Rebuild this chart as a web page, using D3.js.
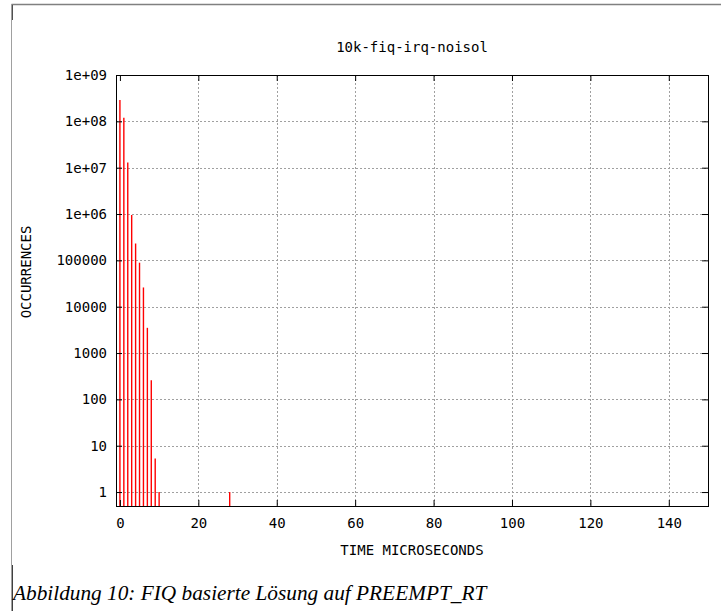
<!DOCTYPE html>
<html>
<head>
<meta charset="utf-8">
<script src="https://cdn.jsdelivr.net/npm/d3@7"></script>
<style>
    body { margin: 0; background: #fff; }
    svg { display: block; }
    .mono { font-family: "DejaVu Sans Mono", "Liberation Mono", monospace; font-size: 14px; fill: #000; }
    .caption { font-family: "Liberation Serif", "Times New Roman", "DejaVu Serif", serif; font-style: italic; font-size: 21.3px; fill: #000; }
</style>
</head>
<body>
<svg width="721" height="611"></svg>
<script>
// histogram data: latency in microseconds and count
const times = [0, 1, 2, 3, 4, 5, 6, 7, 8, 9, 10, 28];
const counts = [290000000, 120000000, 13000000, 950000, 230000, 89000, 26000, 3500, 260, 5.3, 1, 1];
const yTicks = [1, 10, 100, 1000, 10000, 100000, 1e6, 1e7, 1e8, 1e9];
const yTickLabels = ["1", "10", "100", "1000", "10000", "100000", "1e+06", "1e+07", "1e+08", "1e+09"];
const xTicks = [0, 20, 40, 60, 80, 100, 120, 140];

const svg = d3.select("svg");

// page frame lines
svg.append("line").attr("x1", 11.5).attr("x2", 721).attr("y1", 4.5).attr("y2", 4.5)
    .attr("stroke", "#808080").attr("stroke-width", 1.5);
svg.append("line").attr("x1", 11.5).attr("x2", 11.5).attr("y1", 4).attr("y2", 611)
    .attr("stroke", "#a0a0a0");
svg.append("line").attr("x1", 12.5).attr("x2", 12.5).attr("y1", 5).attr("y2", 20)
    .attr("stroke", "#505050");
svg.append("line").attr("x1", 12.5).attr("x2", 12.5).attr("y1", 565).attr("y2", 611)
    .attr("stroke", "#404040");

const pLeft = 116, pRight = 708, pTop = 75, pBottom = 506;

const x = d3.scaleLinear().domain([-1, 150]).range([pLeft, pRight]);
const y = d3.scaleLog().domain([0.5, 1e9]).range([pBottom, pTop]);

const plot = svg.append("g");

// grid
plot.append("g").selectAll("line").data(yTicks.slice(0, -1)).enter().append("line")
    .attr("x1", pLeft).attr("x2", pRight)
    .attr("y1", d => Math.round(y(d)) + 0.5).attr("y2", d => Math.round(y(d)) + 0.5)
    .attr("stroke", "#a0a0a0").attr("stroke-dasharray", "2,2");
plot.append("g").selectAll("line").data(xTicks.slice(1)).enter().append("line")
    .attr("y1", pTop).attr("y2", pBottom)
    .attr("x1", d => Math.round(x(d)) + 0.5).attr("x2", d => Math.round(x(d)) + 0.5)
    .attr("stroke", "#a0a0a0").attr("stroke-dasharray", "2,2");

// impulses
plot.append("g").selectAll("line").data(times).enter().append("line")
    .attr("x1", d => x(d)).attr("x2", d => x(d))
    .attr("y1", pBottom)
    .attr("y2", (d, i) => y(counts[i]))
    .attr("stroke", "#ff0000")
    .attr("stroke-width", 1.4);

// axes with mirrored inward ticks
const tickLen = 6;
const yLeft = d3.axisLeft(y).tickValues(yTicks).tickFormat((d, i) => yTickLabels[i])
    .tickSizeInner(-tickLen).tickSizeOuter(0).tickPadding(9);
plot.append("g").attr("transform", `translate(${pLeft},0)`).call(yLeft);
const yRight = d3.axisRight(y).tickValues(yTicks).tickFormat("")
    .tickSizeInner(-tickLen).tickSizeOuter(0);
plot.append("g").attr("transform", `translate(${pRight},0)`).call(yRight);
const xBottom = d3.axisBottom(x).tickValues(xTicks).tickFormat(d3.format("d"))
    .tickSizeInner(-tickLen).tickSizeOuter(0).tickPadding(12);
plot.append("g").attr("transform", `translate(0,${pBottom})`).call(xBottom);
const xTop = d3.axisTop(x).tickValues(xTicks).tickFormat("")
    .tickSizeInner(-tickLen).tickSizeOuter(0);
plot.append("g").attr("transform", `translate(0,${pTop})`).call(xTop);

plot.selectAll(".domain").remove();
plot.selectAll(".tick line").attr("stroke", "#000");
plot.selectAll(".tick text").attr("class", "mono")
    .attr("font-family", null).attr("font-size", null);
plot.selectAll("g").attr("font-family", null).attr("font-size", null);

// frame
plot.append("rect").attr("x", pLeft + 0.5).attr("y", pTop + 0.5)
    .attr("width", pRight - pLeft).attr("height", pBottom - pTop)
    .attr("fill", "none").attr("stroke", "#000");

// titles
svg.append("text").attr("class", "mono").attr("x", 412).attr("y", 52)
    .attr("text-anchor", "middle").text("10k-fiq-irq-noisol");
svg.append("text").attr("class", "mono").attr("x", 412).attr("y", 555)
    .attr("text-anchor", "middle").text("TIME MICROSECONDS");
svg.append("text").attr("class", "mono")
    .attr("transform", "translate(31,272) rotate(-90)")
    .attr("text-anchor", "middle").text("OCCURRENCES");

// caption
svg.append("text").attr("class", "caption").attr("x", 13).attr("y", 600)
    .text("Abbildung 10: FIQ basierte Lösung auf PREEMPT_RT");
</script>
</body>
</html>
